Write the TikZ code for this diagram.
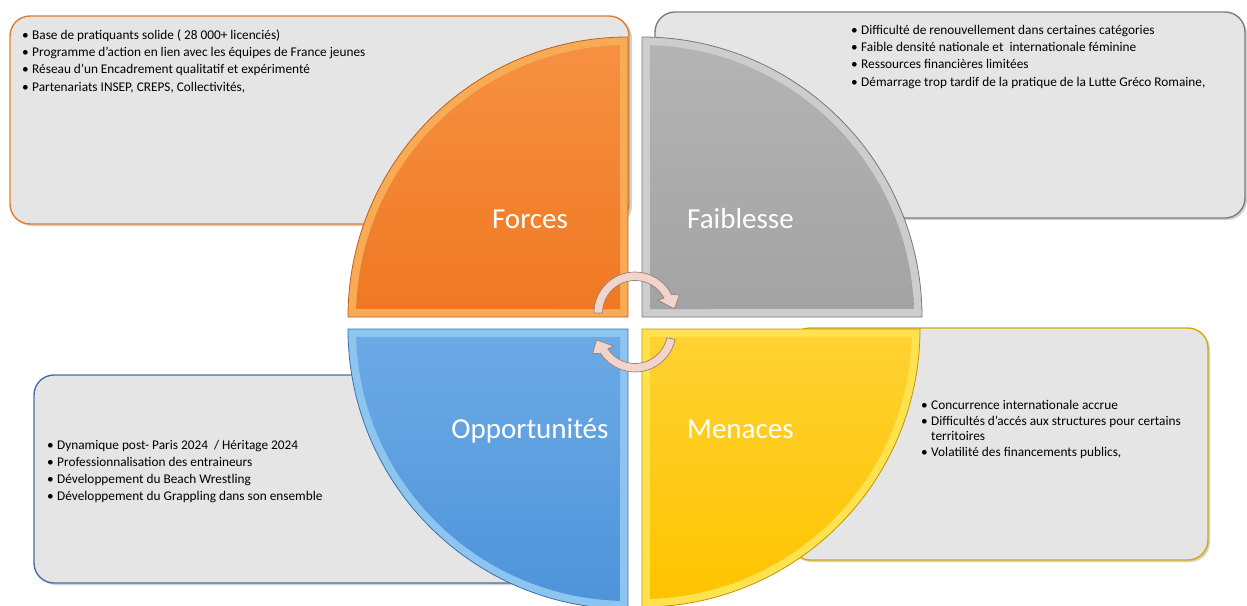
\documentclass[tikz,border=0pt]{standalone}
\usepackage{fontspec}
\setmainfont{Carlito}
\definecolor{boxgray}{RGB}{229,229,229}
\definecolor{fBorder}{RGB}{232,122,40}
\definecolor{wBorder}{RGB}{125,125,125}
\definecolor{oBorder}{RGB}{70,112,165}
\definecolor{mBorder}{RGB}{215,170,0}
\definecolor{fTop}{RGB}{246,145,65}
\definecolor{fBot}{RGB}{240,120,35}
\definecolor{fBev}{RGB}{248,170,85}
\definecolor{fLine}{RGB}{190,95,30}
\definecolor{wTop}{RGB}{180,180,180}
\definecolor{wBot}{RGB}{163,163,163}
\definecolor{wBev}{RGB}{205,205,205}
\definecolor{wLine}{RGB}{120,120,120}
\definecolor{oTop}{RGB}{108,170,230}
\definecolor{oBot}{RGB}{78,148,218}
\definecolor{oBev}{RGB}{140,198,240}
\definecolor{oLine}{RGB}{60,110,170}
\definecolor{mTop}{RGB}{255,210,50}
\definecolor{mBot}{RGB}{255,196,0}
\definecolor{mBev}{RGB}{255,226,80}
\definecolor{mLine}{RGB}{190,150,0}
\definecolor{arrowpink}{RGB}{243,212,202}
\definecolor{arrowline}{RGB}{150,128,122}
\newcommand\bul{\llap{\makebox[10pt][l]{\textbullet}}}
\begin{document}
\begin{tikzpicture}[x=1pt,y=1pt,
  swotbox/.style={line width=1.4pt, rounded corners=20pt, fill=boxgray},
  boxshadow/.style={fill=black, opacity=0.18, rounded corners=20pt},
  item/.style={anchor=base west, inner sep=0pt, font=\fontsize{13.3}{16}\selectfont, text=black},
  qlabel/.style={inner sep=0pt, text=white, font=\fontsize{29}{34}\selectfont},
  quadline/.style={line width=0.8pt},
  arrowshape/.style={fill=arrowpink, draw=arrowline, line width=0.7pt, line join=round}]
\useasboundingbox (0,0) rectangle (1247,-605);
\clip (0,0) rectangle (1247,-605);

% ---------- text boxes ----------
\fill[boxshadow] (12,-18) rectangle (632,-226);
\draw[swotbox, draw=fBorder] (10,-16) rectangle (629,-224);
\fill[boxshadow] (657,-14) rectangle (1247,-220);
\draw[swotbox, draw=wBorder] (655,-12) rectangle (1245,-218);
\fill[boxshadow] (36,-377) rectangle (627,-585);
\draw[swotbox, draw=oBorder] (34,-375) rectangle (625,-583);
\fill[boxshadow] (792,-330) rectangle (1210,-562);
\draw[swotbox, draw=mBorder] (790,-328) rectangle (1208,-560);

% ---------- quadrants ----------
% Forces
\begin{scope}[shift={(628,-317)}]
  \fill[fBev] (0,0) -- (180:280pt) arc[start angle=180,end angle=90,radius=280pt] -- cycle;
  \shade[top color=fTop, bottom color=fBot] (-8,8) -- (178.31:272pt) arc[start angle=178.31,end angle=91.69,radius=272pt] -- cycle;
  \draw[quadline, draw=fLine] (0,0) -- (180:280pt) arc[start angle=180,end angle=90,radius=280pt] -- cycle;
\end{scope}
% Faiblesse
\begin{scope}[shift={(642,-317)}]
  \fill[wBev] (0,0) -- (0:280pt) arc[start angle=0,end angle=90,radius=280pt] -- cycle;
  \shade[top color=wTop, bottom color=wBot] (8,8) -- (1.69:272pt) arc[start angle=1.69,end angle=88.31,radius=272pt] -- cycle;
  \draw[quadline, draw=wLine] (0,0) -- (0:280pt) arc[start angle=0,end angle=90,radius=280pt] -- cycle;
\end{scope}
% Opportunites
\begin{scope}[shift={(628,-329)}]
  \fill[oBev] (0,0) -- (180:280pt) arc[start angle=180,end angle=270,radius=280pt] -- cycle;
  \shade[top color=oTop, bottom color=oBot] (-8,-8) -- (181.69:272pt) arc[start angle=181.69,end angle=268.31,radius=272pt] -- cycle;
  \draw[quadline, draw=oLine] (0,0) -- (180:280pt) arc[start angle=180,end angle=270,radius=280pt] -- cycle;
\end{scope}
% Menaces
\begin{scope}[shift={(642,-329)}]
  \fill[mBev] (0,0) -- (0:278pt) arc[start angle=0,end angle=-90,radius=278pt] -- cycle;
  \shade[top color=mTop, bottom color=mBot] (8,-8) -- (-1.69:270pt) arc[start angle=-1.69,end angle=-88.31,radius=270pt] -- cycle;
  \draw[quadline, draw=mLine] (0,0) -- (0:278pt) arc[start angle=0,end angle=-90,radius=278pt] -- cycle;
\end{scope}

% ---------- quadrant labels ----------
\node[qlabel, anchor=base] (lforces) at (530,-228) {Forces};
\node[qlabel, anchor=base west] (lfaib) at (687,-228) {Faiblesse};
\node[qlabel, anchor=base] (lopp) at (530,-438) {Opportunités};
\node[qlabel, anchor=base west] (lmen) at (687,-438) {Menaces};

% ---------- box texts ----------
\node[item] (f1) at (32,-39) {\bul Base de pratiquants solide ( 28 000+ licenciés)};
\node[item] (f2) at (32,-56) {\bul Programme d’action en lien avec les équipes de France jeunes};
\node[item] (f3) at (32,-73) {\bul Réseau d'un Encadrement qualitatif et expérimenté};
\node[item] (f4) at (32,-91) {\bul Partenariats INSEP, CREPS, Collectivités,};

\node[item] (w1) at (861,-34) {\bul Difficulté de renouvellement dans certaines catégories};
\node[item] (w2) at (861,-51) {\bul Faible densité nationale et~ internationale féminine};
\node[item] (w3) at (861,-68) {\bul Ressources financières limitées};
\node[item] (w4) at (861,-86) {\bul Démarrage trop tardif de la pratique de la Lutte Gréco Romaine,};

\node[item] (o1) at (57,-449) {\bul Dynamique post- Paris 2024~ / Héritage 2024};
\node[item] (o2) at (57,-466) {\bul Professionnalisation des entraineurs};
\node[item] (o3) at (57,-483) {\bul Développement du Beach Wrestling};
\node[item] (o4) at (57,-500) {\bul Développement du Grappling dans son ensemble};

\node[item] (m1) at (931,-409) {\bul Concurrence internationale accrue};
\node[item] (m2) at (931,-425) {\bul Difficultés d'accés aux structures pour certains};
\node[item] (m2b) at (931,-440) {territoires};
\node[item] (m3) at (931,-456) {\bul Volatilité des financements publics,};

% ---------- cycle arrows ----------
\coordinate (ctop) at (635,-313);
\coordinate (cbot) at (635,-331);
\begin{scope}[shift={(ctop)}]
  \path[arrowshape] (180:41pt) arc[start angle=180,end angle=27,radius=41pt]
    -- (22:48pt) -- (6:39.5pt) -- (30:26pt) -- (27:32.5pt)
    arc[start angle=27,end angle=180,radius=32.5pt] -- cycle;
\end{scope}
\begin{scope}[shift={(cbot)}]
  \path[arrowshape] (-12:41pt) arc[start angle=-12,end angle=-147,radius=41pt]
    -- (-152:48pt) -- (-167:39.5pt) -- (-144:26pt) -- (-147:32.5pt)
    arc[start angle=-147,end angle=-12,radius=32.5pt] -- cycle;
\end{scope}
\end{tikzpicture}
\end{document}
